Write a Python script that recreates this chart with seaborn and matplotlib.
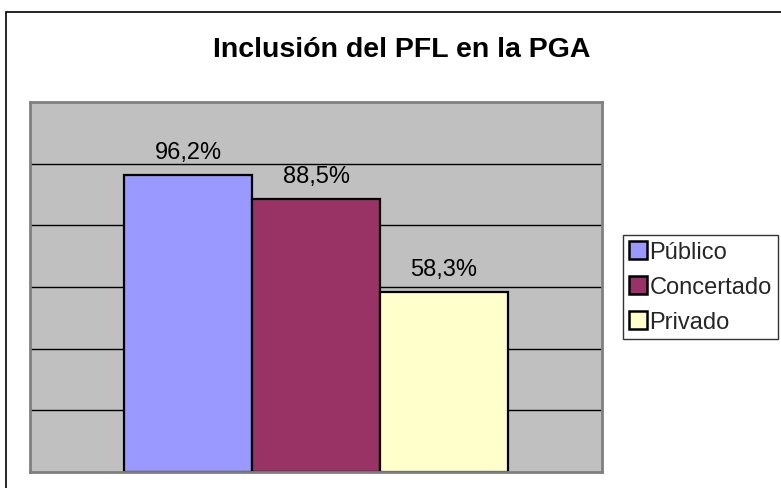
import matplotlib
matplotlib.use("Agg")
import matplotlib.pyplot as plt
import seaborn as sns
import pandas as pd
from matplotlib.patches import Rectangle
from matplotlib.lines import Line2D

title = "Inclusión del PFL en la PGA"
series = ["Público", "Concertado", "Privado"]
values = [96.2, 88.5, 58.3]
labels = ["96,2%", "88,5%", "58,3%"]
colors = ["#9999FF", "#993366", "#FFFFCC"]

df = pd.DataFrame({"grupo": ["PGA"] * 3, "serie": series, "valor": values})

sns.set_theme(style="white")
plt.rcParams["font.family"] = ["Liberation Sans", "DejaVu Sans"]

fig = plt.figure(figsize=(7.81, 4.89), dpi=100)
ax = fig.add_axes([30 / 781, 16 / 489, 572 / 781, 370 / 489])

sns.barplot(data=df, x="grupo", y="valor", hue="serie", palette=colors,
            hue_order=series, width=0.67, dodge=True, ax=ax,
            edgecolor="black", linewidth=1.6, legend=False, saturation=1)

ax.set_facecolor("#C0C0C0")
ax.set_ylim(0, 120)
ax.set_xlim(-0.5, 0.5)
ax.set_yticks([20, 40, 60, 80, 100])
ax.yaxis.grid(True, color="black", linewidth=1.0)
ax.set_axisbelow(True)
ax.set_xticks([])
ax.set_yticklabels([])
ax.tick_params(left=False, bottom=False)
ax.set_xlabel("")
ax.set_ylabel("")
for s in ax.spines.values():
    s.set_visible(True)
    s.set_color("#808080")
    s.set_linewidth(2)

for cont, lab in zip(ax.containers, labels):
    ax.bar_label(cont, labels=[lab], padding=9, fontsize=17, color="black")

fig.text(401.5 / 781, 1 - 57 / 489, title, ha="center", va="baseline",
         fontsize=20.5, fontweight="bold", color="black")

# outer chart border
fig.patches.append(Rectangle((6 / 781, -0.05), 1.1, 1 - 13 / 489 + 0.05,
                             transform=fig.transFigure, fill=False,
                             edgecolor="black", linewidth=1.2, zorder=0))

handles = [Line2D([0], [0], marker="s", linestyle="none", markersize=12.5,
                  markerfacecolor=c, markeredgecolor="black", markeredgewidth=1.8)
           for c in colors]
leg = fig.legend(handles, series, loc="upper left",
                 bbox_to_anchor=(623 / 781, 1 - 236 / 489),
                 frameon=True, fontsize=17, handlelength=0.75, handletextpad=0.12,
                 borderpad=0.25, labelspacing=0.55, fancybox=False,
                 borderaxespad=0)
leg.get_frame().set_edgecolor("black")
leg.get_frame().set_linewidth(1.0)

fig.savefig("out.png", dpi=100, facecolor="white")
